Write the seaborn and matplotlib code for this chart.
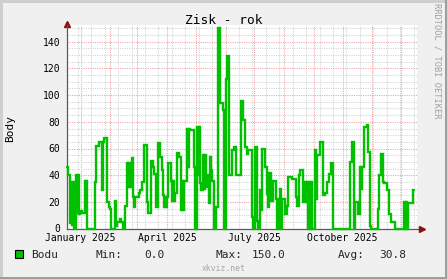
import matplotlib
matplotlib.use('Agg')
import matplotlib.pyplot as plt
import matplotlib.dates as mdates
from matplotlib.ticker import FixedLocator, MultipleLocator
from matplotlib.transforms import ScaledTranslation
from matplotlib.patches import Rectangle
from matplotlib.lines import Line2D
import numpy as np
import pandas as pd
import seaborn as sns

# ---------------- data ----------------
title = 'Zisk - rok'
y_label = 'Body'
series_name = 'Bodu'
start_date = '2024-12-18'
daily_values = [
    46, 40, 40, 4, 35, 3, 35, 0, 0, 40, 12, 40, 11, 13,
    13, 12, 12, 12, 36, 12, 36, 0, 0, 0, 0, 0, 0, 0,
    0, 35, 62, 62, 62, 65, 65, 65, 29, 65, 68, 68, 68, 20,
    20, 16, 16, 15, 0, 0, 0, 0, 21, 2, 5, 5, 5, 7,
    5, 5, 0, 0, 17, 17, 49, 31, 49, 31, 31, 53, 53, 24,
    16, 24, 24, 24, 24, 27, 29, 29, 35, 35, 63, 63, 63, 20,
    12, 12, 12, 51, 51, 46, 41, 41, 41, 16, 16, 64, 64, 54,
    54, 44, 25, 16, 24, 16, 24, 49, 49, 49, 36, 21, 36, 21,
    27, 27, 57, 57, 54, 54, 54, 14, 36, 14, 36, 36, 36, 75,
    46, 75, 74, 74, 74, 74, 46, 0, 0, 76, 40, 76, 34, 29,
    29, 29, 55, 30, 55, 31, 40, 40, 19, 54, 44, 36, 36, 0,
    0, 16, 16, 150, 150, 94, 94, 94, 89, 0, 0, 112, 129, 129,
    129, 40, 40, 40, 59, 59, 61, 61, 40, 40, 40, 40, 40, 96,
    96, 81, 81, 61, 61, 56, 59, 59, 59, 59, 59, 9, 0, 0,
    61, 61, 6, 0, 0, 29, 14, 60, 60, 60, 46, 46, 26, 16,
    42, 42, 21, 21, 21, 36, 36, 36, 22, 0, 0, 22, 30, 0,
    22, 22, 22, 11, 11, 17, 39, 39, 39, 39, 37, 37, 37, 37,
    24, 24, 17, 17, 40, 44, 44, 44, 20, 20, 35, 20, 35, 0,
    35, 0, 35, 0, 0, 0, 59, 22, 55, 55, 55, 55, 65, 65,
    65, 25, 25, 27, 27, 35, 35, 41, 41, 49, 49, 0, 0, 0,
    0, 0, 0, 0, 0, 0, 0, 0, 0, 0, 0, 0, 0, 0,
    0, 50, 50, 65, 65, 0, 20, 20, 20, 11, 11, 46, 30, 46,
    46, 76, 76, 76, 77.5, 77.5, 57.5, 57.5, 2, 0, 0, 0, 0, 0,
    0, 0, 15, 40, 40, 56, 56, 35, 34, 34, 34, 29, 29, 11,
    11, 5, 5, 5, 5, 5, 0, 0, 0, 0, 0, 0, 0, 0,
    0, 20, 0, 20, 0, 19, 19, 19, 19, 19, 29, 29, 29,
]
y_tick_values = [0, 20, 40, 60, 80, 100, 120, 140]
x_label_texts = {1: 'January 2025', 4: 'April 2025', 7: 'July 2025', 10: 'October 2025'}
stat_min = 0.0
stat_max = 150.0
stat_avg = 30.8
watermark = 'xkviz.net'
side_note = 'RRDTOOL / TOBI OETIKER'

# ---------------- style ----------------
GREEN = '#00C000'
BACK = '#F0F0F0'
SHADEA = '#CFCFCF'
SHADEB = '#9E9E9E'
AXIS = '#5A5A5A'
ARROW = '#8B1010'
MGRID = '#EBA0A0'
GRID = '#D2D2D2'

sns.set_theme(style='white')
plt.rcParams['font.family'] = ['DejaVu Sans Mono', 'DejaVu Sans']

W, H = 447, 279
fig = plt.figure(figsize=(W / 100, H / 100), dpi=100, facecolor=BACK)
L, R, T, B = 67.3, 417.0, 25.0, 228.5
ax = fig.add_axes([L / W, 1 - B / H, (R - L) / W, (B - T) / H])
ax.set_facecolor('white')

df = pd.DataFrame({
    'date': pd.date_range(start_date, periods=len(daily_values), freq='D'),
    'value': daily_values,
})
sns.lineplot(data=df, x='date', y='value', ax=ax, color=GREEN, linewidth=1.7,
             drawstyle='steps-post', estimator=None, zorder=3, clip_on=False,
             solid_joinstyle='miter')

ax.set_xlim(pd.Timestamp('2024-12-18'), pd.Timestamp('2025-12-17 15:00'))
ax.set_ylim(0, (B - T) / (200 / 150))
ax.set_xlabel('')

# x axis: month ticks (red), biweekly minor (gray), labels centred mid-month
month_starts = pd.date_range('2025-01-01', '2025-12-01', freq='MS')
ax.set_xticks(mdates.date2num(month_starts))
ax.set_xticklabels([x_label_texts.get(m.month, '') for m in month_starts])
biweekly = pd.date_range('2024-12-29', '2025-12-17', freq='14D')
ax.xaxis.set_minor_locator(FixedLocator(mdates.date2num(biweekly)))
shift = ScaledTranslation(15 * (R - L) / 364.65 / 100, 0, fig.dpi_scale_trans)
for lab in ax.get_xticklabels():
    lab.set_transform(lab.get_transform() + shift)

ax.set_yticks(y_tick_values)
ax.yaxis.set_minor_locator(MultipleLocator(5))

ax.tick_params(axis='x', which='major', length=2.2, width=0.75, color='#E05050',
               direction='out', pad=1.3, labelsize=7, labelcolor='black')
ax.tick_params(axis='x', which='minor', length=1.5, width=0.75, color='#A0A0A0', direction='out')
ax.tick_params(axis='y', which='major', length=3, width=0.75, color=AXIS,
               direction='inout', pad=3.6, labelsize=7, labelcolor='black')
ax.tick_params(axis='y', which='minor', length=1.5, width=0.75, color='#A0A0A0', direction='out')

dots = (0, (1, 1.2))
ax.grid(True, which='major', color=MGRID, linestyle=dots, linewidth=0.75, zorder=0)
ax.grid(True, which='minor', color=GRID, linestyle=dots, linewidth=0.75, zorder=0)
ax.set_axisbelow(True)

for s in ['top', 'right']:
    ax.spines[s].set_visible(False)
for s in ['left', 'bottom']:
    ax.spines[s].set_color(AXIS)
    ax.spines[s].set_linewidth(0.9)

# axis arrows
ax.add_line(Line2D([0, 0], [1, 1 + 3 / (B - T)], transform=ax.transAxes, color=AXIS,
                   lw=0.9, clip_on=False))
ax.add_line(Line2D([0], [1 + 1.5 / (B - T)], transform=ax.transAxes, marker='^', ms=4.2,
                   color=ARROW, mec=ARROW, clip_on=False, lw=0))
ax.add_line(Line2D([1, 1 + 4 / (R - L)], [0, 0], transform=ax.transAxes, color=AXIS,
                   lw=0.9, clip_on=False))
ax.add_line(Line2D([1 + 4.5 / (R - L)], [0], transform=ax.transAxes, marker='>', ms=4.2,
                   color=ARROW, mec=ARROW, clip_on=False, lw=0))

ax.set_ylabel(y_label, fontsize=8, color='black')
ax.yaxis.set_label_coords((15.5 - L) / (R - L), (B - 128.3) / (B - T))

# title
fig.text(0.5, 1 - 24 / H, title, ha='center', va='baseline', fontsize=9.3, color='black')

# legend row
fig.add_artist(Rectangle((15 / W, 1 - 258.3 / H), 8.3 / W, 8.3 / H, transform=fig.transFigure,
                         facecolor=GREEN, edgecolor='black', lw=0.8))
base = 1 - 258.3 / H
fig.text(30.7 / W, base, series_name, fontsize=8, va='baseline')
fig.text(95 / W, base, 'Min:', fontsize=8, va='baseline')
fig.text(144 / W, base, f'{stat_min:.1f}', fontsize=8, va='baseline')
fig.text(216 / W, base, 'Max:', fontsize=8, va='baseline')
fig.text(251.7 / W, base, f'{stat_max:.1f}', fontsize=8, va='baseline')
fig.text(337.3 / W, base, 'Avg:', fontsize=8, va='baseline')
fig.text(379.3 / W, base, f'{stat_avg:.1f}', fontsize=8, va='baseline')

fig.text(0.5, 1 - 268.3 / H, watermark, ha='center', va='center', fontsize=5.9, color='#A8A8A8')
fig.text(437.5 / W, 1 - 61 / H, side_note, ha='center', va='center', rotation=270,
         fontsize=6.2, color='#A0A0A0')

# 3-D frame
bw = 2.5
fig.add_artist(Rectangle((0, 1 - bw / H), 1, bw / H, transform=fig.transFigure, color=SHADEA, lw=0))
fig.add_artist(Rectangle((0, 0), bw / W, 1, transform=fig.transFigure, color=SHADEA, lw=0))
fig.add_artist(Rectangle((0, 0), 1, bw / H, transform=fig.transFigure, color=SHADEB, lw=0))
fig.add_artist(Rectangle((1 - bw / W, 0), bw / W, 1, transform=fig.transFigure, color=SHADEB, lw=0))

fig.savefig('out.png', dpi=100, facecolor=fig.get_facecolor())
